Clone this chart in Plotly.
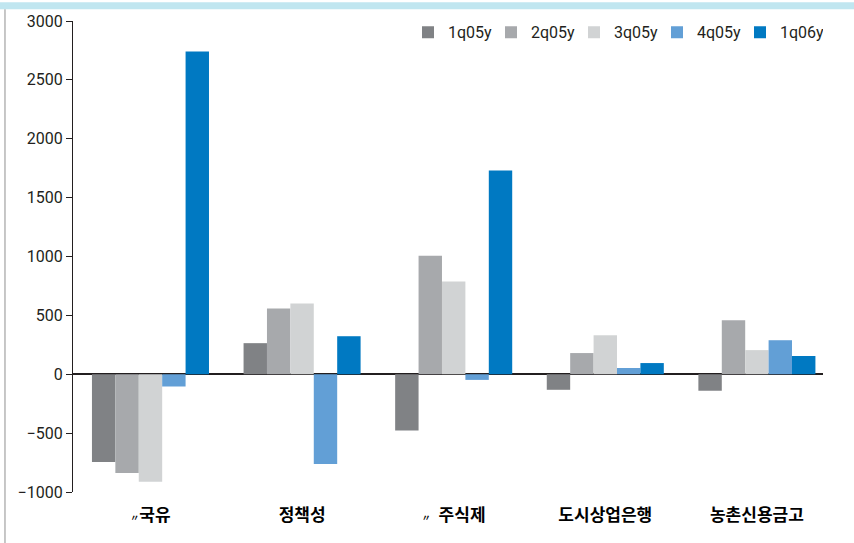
import plotly.graph_objects as go

# 은행 유형별 분기 데이터
categories = ["<span style='font-size:9px'>〃</span>국유", "정책성",
              "<span style='font-size:9px'>〃</span>  주식제", "도시상업은행", "농촌신용금고"]
series_names = ["1q05y", "2q05y", "3q05y", "4q05y", "1q06y"]
q1_05 = [-745, 264, -478, -132, -140]
q2_05 = [-838, 559, 1006, 180, 458]
q3_05 = [-914, 601, 787, 331, 205]
q4_05 = [-104, -762, -48, 53, 289]
q1_06 = [2740, 323, 1731, 95, 155]
y_ticks = [-1000, -500, 0, 500, 1000, 1500, 2000, 2500, 3000]

colors = ["#808285", "#a7a9ac", "#d1d3d4", "#629fd6", "#0079c2"]
num_font = "Liberation Sans Narrow, Roboto, Arial, sans-serif"

fig = go.Figure()
for name, vals, col in zip(series_names, [q1_05, q2_05, q3_05, q4_05, q1_06], colors):
    fig.add_trace(go.Bar(
        x=list(range(len(categories))), y=vals, name=name,
        marker=dict(color=col, line=dict(width=0)),
    ))

fig.update_layout(
    width=854, height=543,
    margin=dict(l=73, r=31, t=17.5, b=51),
    paper_bgcolor="white", plot_bgcolor="white",
    barmode="group", bargap=0.228, bargroupgap=0,
    legend=dict(
        orientation="h", x=1.0, xanchor="right", y=0.976, yanchor="middle",
        font=dict(family=num_font, size=16, color="#231f20"),
        itemwidth=30, entrywidth=38, tracegroupgap=0, bgcolor="rgba(0,0,0,0)",
    ),
    xaxis=dict(
        range=[-0.511, 4.436],
        tickmode="array", tickvals=list(range(len(categories))), ticktext=categories,
        showline=False, showgrid=False, zeroline=False, ticks="",
        ticklabelstandoff=11,
        tickfont=dict(family="Noto Sans CJK KR", size=17, color="black", weight="bold"),
    ),
    yaxis=dict(
        range=[-1000, 3000], tickvals=y_ticks,
        showline=True, linecolor="#231f20", linewidth=1.2,
        ticks="outside", ticklen=6, tickcolor="#231f20", tickwidth=1.2,
        showgrid=False, zeroline=True, zerolinecolor="#231f20", zerolinewidth=1.5,
        tickfont=dict(family=num_font, size=16, color="#231f20"),
    ),
    shapes=[
        dict(type="rect", xref="paper", yref="paper",
             x0=-0.2, x1=1.2, y0=1.0249, y1=1.04,
             fillcolor="#c0e6f0", line=dict(width=0), layer="below"),
        dict(type="line", xref="paper", yref="paper",
             x0=-0.0907, x1=-0.0907, y0=-0.12, y1=1.0249,
             line=dict(color="#b5b5b5", width=1.5)),
    ],
)

# 페이지 기본 여백 제거 (차트를 창 왼쪽 위에 맞춤)
fig.write_html("out.html", config={"displayModeBar": False},
               post_script="document.body.style.margin='0';")
